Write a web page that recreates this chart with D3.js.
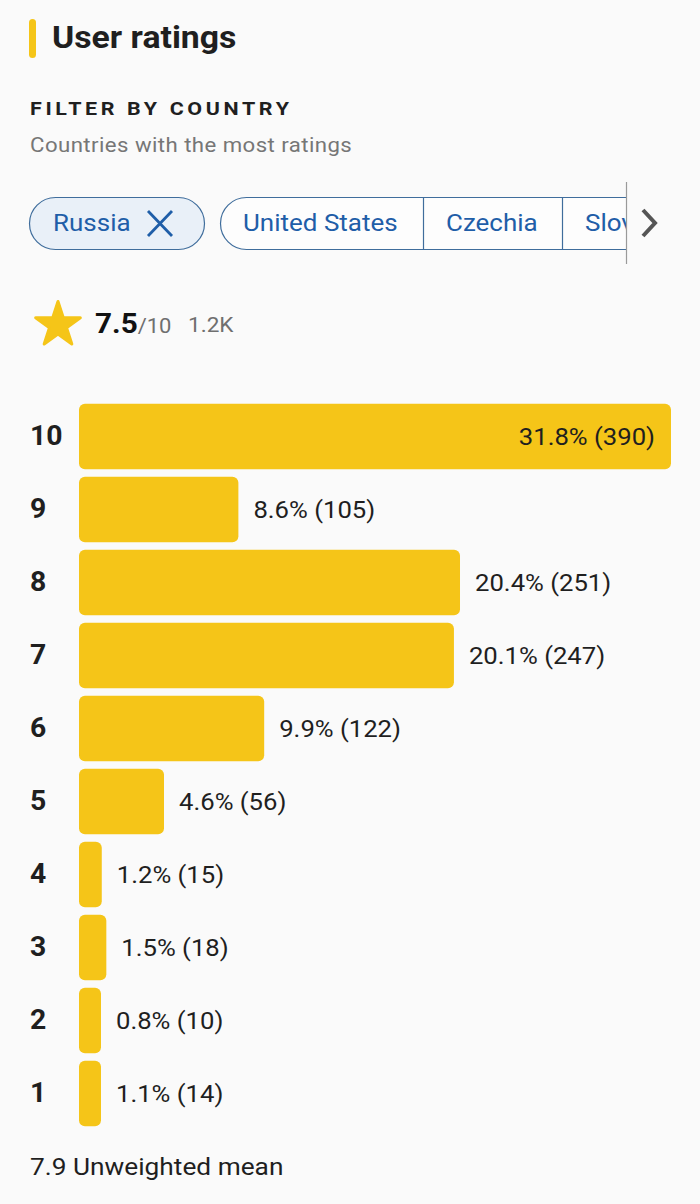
<!DOCTYPE html>
<html>
<head>
<meta charset="utf-8">
<script src="https://cdn.jsdelivr.net/npm/d3@7"></script>
<style>
  body { margin: 0; background: #fafafa; }
  svg { display: block; font-family: Roboto, "Noto Sans", sans-serif; }
</style>
</head>
<body>
<div id="chart-area"></div>
<script>
// data
var ratings = [10, 9, 8, 7, 6, 5, 4, 3, 2, 1];
var counts = [390, 105, 251, 247, 122, 56, 15, 18, 10, 14];
var percents = ["31.8%", "8.6%", "20.4%", "20.1%", "9.9%", "4.6%", "1.2%", "1.5%", "0.8%", "1.1%"];
var countries = ["United States", "Czechia", "Slovakia"];

var W = 700, H = 1204;

var svg = d3.select("#chart-area").append("svg")
    .attr("width", W).attr("height", H);

svg.append("rect").attr("width", W).attr("height", H).attr("fill", "#fafafa");

// helper for text, slightly stretched like the picture's
function txt(parent, x, y, s, size, sx) {
    return parent.append("text")
        .attr("transform", "translate(" + x + "," + y + ") scale(" + sx + ",1)")
        .attr("font-size", size)
        .text(s);
}

// header
svg.append("rect").attr("x", 29).attr("y", 19).attr("width", 7).attr("height", 39)
    .attr("rx", 3.5).attr("fill", "#f5c518");
txt(svg, 52, 48, "User ratings", 31, 1.09).attr("font-weight", 700).attr("fill", "#1f1f1f");

txt(svg, 30, 115, "FILTER BY COUNTRY", 19, 1.13)
    .attr("font-weight", 700).attr("letter-spacing", 3.2).attr("fill", "#1f1f1f");
txt(svg, 30, 152, "Countries with the most ratings", 20, 1.11)
    .attr("fill", "#767676").attr("letter-spacing", 0.4);

// chips
var blue = "#1f5ea8";
svg.append("rect").attr("x", 29.5).attr("y", 197.5).attr("width", 175).attr("height", 52)
    .attr("rx", 26).attr("fill", "#e9f0f8").attr("stroke", "#3f6d9c").attr("stroke-width", 1.2);
txt(svg, 53, 231, "Russia", 23, 1.13).attr("fill", blue);
svg.append("path").attr("d", "M148,211 L172,236 M172,211 L148,236")
    .attr("stroke", blue).attr("stroke-width", 2.8).attr("fill", "none");

svg.append("clipPath").attr("id", "chipclip")
    .append("rect").attr("x", 210).attr("y", 190).attr("width", 416).attr("height", 70);
var group = svg.append("g").attr("clip-path", "url(#chipclip)");
var chipX = [220, 423, 562, 700];
group.append("rect").attr("x", 220.5).attr("y", 197.5).attr("width", 500).attr("height", 52)
    .attr("rx", 26).attr("fill", "#fdfdfd").attr("stroke", "#3f6d9c").attr("stroke-width", 1.2);
countries.forEach(function(c, i) {
    if (i > 0) {
        group.append("line").attr("x1", chipX[i] + 0.5).attr("x2", chipX[i] + 0.5)
            .attr("y1", 197.5).attr("y2", 249.5).attr("stroke", "#3f6d9c").attr("stroke-width", 1.2);
    }
    txt(group, chipX[i] + 23, 231, c, 23, 1.13).attr("fill", blue);
});
svg.append("line").attr("x1", 626.5).attr("x2", 626.5).attr("y1", 182).attr("y2", 264)
    .attr("stroke", "#9a9a9a").attr("stroke-width", 1.2);
svg.append("path").attr("d", "M643,210 L655,223 L643,236")
    .attr("stroke", "#555").attr("stroke-width", 4).attr("fill", "none");

// star + score
var star = d3.symbol().type(d3.symbolStar).size(620);
svg.append("path").attr("d", star()).attr("transform", "translate(58,325)")
    .attr("fill", "#f5c518").attr("stroke", "#f5c518").attr("stroke-width", 3).attr("stroke-linejoin", "round");
var score = txt(svg, 95, 333, "", 27, 1.1);
score.append("tspan").text("7.5").attr("font-size", 27).attr("font-weight", 700).attr("fill", "#111");
score.append("tspan").text("/10").attr("font-size", 20).attr("fill", "#6f6f6f");
txt(svg, 188, 332, "1.2K", 20, 1.13).attr("fill", "#6f6f6f");

// bars
var x = d3.scaleLinear().domain([0, d3.max(counts)]).range([79, 671]);
var y = d3.scaleBand().domain(ratings).range([400, 1130]).paddingInner(0.1).paddingOuter(0.05);

var rows = svg.selectAll("g.row").data(ratings).enter().append("g").attr("class", "row");

rows.append("rect")
    .attr("x", x(0))
    .attr("y", function(d) { return y(d); })
    .attr("width", function(d, i) { return Math.max(x(counts[i]) - x(0), 22); })
    .attr("height", y.bandwidth())
    .attr("rx", 6)
    .attr("fill", "#f5c518");

var tickSX = 1.05;
var yAxis = d3.axisLeft(y).tickSize(0).tickPadding(0);
var ax = svg.append("g").attr("transform", "translate(62,0)").call(yAxis);
ax.select(".domain").remove();
ax.selectAll("text")
    .attr("transform", "scale(" + tickSX + ",1)")
    .attr("x", -32 / tickSX).attr("text-anchor", "start")
    .attr("font-size", 27).attr("font-weight", 700).attr("fill", "#1f1f1f")
    .attr("font-family", "Roboto, sans-serif");

rows.each(function(d, i) {
    var end = x(counts[i]);
    var lx = i === 0 ? end - 16 : Math.max(end, x(0) + 22) + 15;
    txt(d3.select(this), lx, y(d) + y.bandwidth() / 2, percents[i] + " (" + counts[i] + ")", 24, 1.07)
        .attr("dy", "0.35em")
        .attr("text-anchor", i === 0 ? "end" : "start")
        .attr("fill", "#1f1f1f");
});

txt(svg, 30, 1175, "7.9 Unweighted mean", 24, 1.095).attr("fill", "#1f1f1f");
</script>
</body>
</html>
